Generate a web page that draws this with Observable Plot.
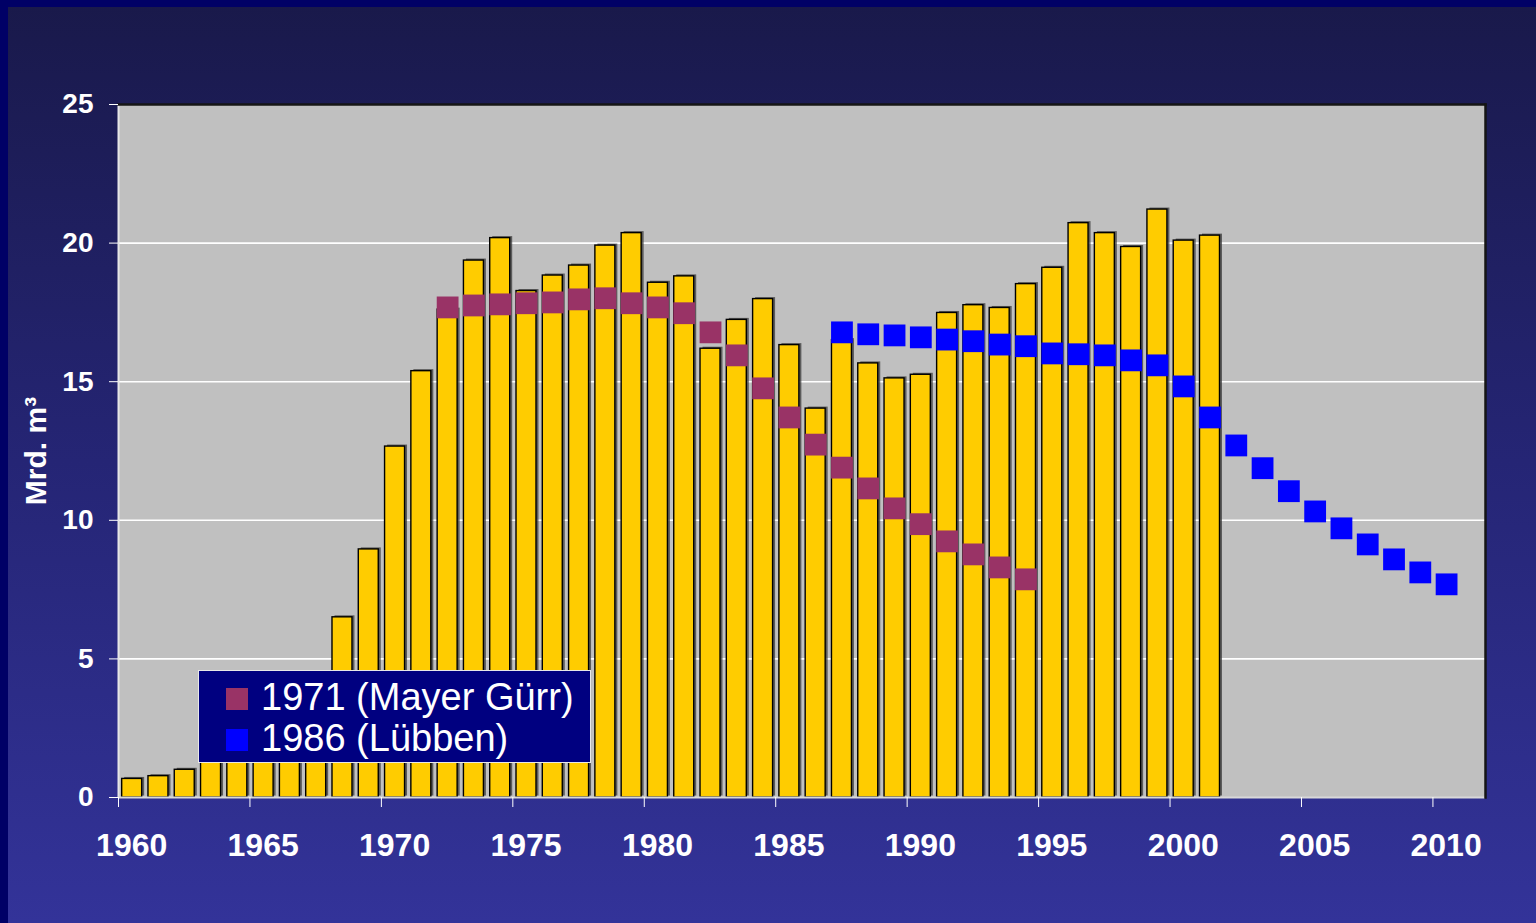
<!DOCTYPE html>
<html>
<head>
<meta charset="utf-8">
<script src="https://cdn.jsdelivr.net/npm/d3@7"></script>
<script src="https://cdn.jsdelivr.net/npm/@observablehq/plot@0.6"></script>
<style>
  html, body { margin: 0; padding: 0; overflow: hidden; }
  #page {
    position: relative; width: 1536px; height: 923px;
    background: linear-gradient(to bottom, #19194a 0%, #252575 50%, #333399 100%);
    font-family: "Liberation Sans", Arial, sans-serif;
  }
  #stripL { position: absolute; left: 0; top: 0; width: 8px; height: 923px; background: #000066; }
  #stripT { position: absolute; left: 0; top: 0; width: 1536px; height: 7px; background: #000066; }
  #chart { position: absolute; left: 0; top: 0; }
  #legend {
    position: absolute; left: 198px; top: 670px; width: 393px; height: 93px;
    background: #000080; border: 1px solid #e8e8e8; color: white;
    font-size: 38px; line-height: 41px; padding-top: 6px; box-sizing: border-box;
  }
  .row { position: relative; height: 41px; white-space: nowrap; }
  .sw { position: absolute; left: 27px; top: 11px; width: 22px; height: 22px; }
  .lab { position: absolute; left: 62px; top: 0; }
</style>
</head>
<body>
<div id="page">
  <div id="stripL"></div>
  <div id="stripT"></div>
  <div id="chart"></div>
  <div id="legend"></div>
</div>
<script>
// ---- Data ----
const barYears = [1960,1961,1962,1963,1964,1965,1966,1967,1968,1969,
  1970,1971,1972,1973,1974,1975,1976,1977,1978,1979,
  1980,1981,1982,1983,1984,1985,1986,1987,1988,1989,
  1990,1991,1992,1993,1994,1995,1996,1997,1998,1999,
  2000,2001];
const barValues = [0.67,0.77,1.0,1.5,2.1,2.8,3.4,4.1,6.5,8.95,
  12.66,15.38,17.6,19.37,20.18,18.27,18.83,19.19,19.91,20.36,
  18.57,18.80,16.19,17.23,17.98,16.32,14.03,16.5,15.66,15.12,
  15.25,17.48,17.76,17.66,18.52,19.11,20.72,20.36,19.86,21.21,
  20.09,20.27];

const mayerYears = [1972,1973,1974,1975,1976,1977,1978,1979,1980,1981,
  1982,1983,1984,1985,1986,1987,1988,1989,1990,1991,1992,1993,1994];
const mayerValues = [17.68,17.75,17.79,17.83,17.86,17.97,18.01,17.83,17.68,17.47,
  16.78,15.95,14.76,13.71,12.73,11.90,11.15,10.43,9.86,9.24,8.77,8.30,7.87];

const luebbenYears = [1987,1988,1989,1990,1991,1992,1993,1994,1995,1996,
  1997,1998,1999,2000,2001,2002,2003,2004,2005,2006,2007,2008,2009,2010];
const luebbenValues = [16.78,16.71,16.67,16.60,16.52,16.46,16.34,16.28,16.02,15.99,
  15.95,15.77,15.59,14.83,13.71,12.70,11.88,11.05,10.32,9.71,9.13,8.59,8.12,7.69];

const seriesNames = ["1971 (Mayer Gürr)", "1986 (Lübben)"];
const seriesColors = ["#993366", "#0000ff"];

const xTicks = [1960,1965,1970,1975,1980,1985,1990,1995,2000,2005,2010];
const yTicks = [0,5,10,15,20,25];
const gridTicks = [5,10,15,20];
const yTitle = "Mrd. m³";

// ---- Tables ----
const bars = barYears.map((y, i) => ({year: y, value: barValues[i]}));
const mayer = mayerYears.map((y, i) => ({year: y, value: mayerValues[i]}));
const luebben = luebbenYears.map((y, i) => ({year: y, value: luebbenValues[i]}));

const font = "'Liberation Sans', Arial, sans-serif";

const chart = Plot.plot({
  width: 1536,
  height: 923,
  marginLeft: 118,
  marginRight: 51,
  marginTop: 104,
  marginBottom: 126,
  style: {background: "transparent", fontFamily: font, overflow: "visible"},
  x: {type: "linear", domain: [1960, 2012], axis: null},
  y: {domain: [0, 25], axis: null},
  marks: [
    Plot.frame({fill: "#c0c0c0", stroke: null}),
    Plot.gridY(gridTicks, {stroke: "white", strokeOpacity: 1, strokeWidth: 1.6}),
    // bar shadow
    Plot.rectY(bars, {x1: d => d.year + 0.14, x2: d => d.year + 0.90, y: "value",
      fill: "#3a3a3a", fillOpacity: 0.75, dx: 2.5, dy: -1.5}),
    Plot.rectY(bars, {x1: d => d.year + 0.14, x2: d => d.year + 0.90, y: "value",
      fill: "#ffcc00", stroke: "black", strokeWidth: 1.4}),
    Plot.dot(mayer, {x: d => d.year + 0.52, y: "value", symbol: "square", r: 12.3,
      fill: seriesColors[0], stroke: null}),
    Plot.dot(luebben, {x: d => d.year + 0.52, y: "value", symbol: "square", r: 12.3,
      fill: seriesColors[1], stroke: null}),
    Plot.ruleX([1960], {stroke: "#e6e6e6", strokeWidth: 2}),
    Plot.ruleY([0], {stroke: "#d8d8d8", strokeWidth: 2}),
    Plot.frame({anchor: "top", stroke: "#151515", strokeWidth: 2.5}),
    Plot.frame({anchor: "right", stroke: "#151515", strokeWidth: 2.5}),
    Plot.axisY(yTicks, {tickSize: 9, tickPadding: 16, fontSize: 28, fontWeight: "bold",
      color: "white", label: null}),
    Plot.axisX(xTicks, {tickSize: 10, tickFormat: () => "", color: "white", label: null}),
    Plot.axisX(xTicks, {tickSize: 0, tickPadding: 36, dx: 13.2, fontSize: 32, fontWeight: "bold",
      color: "white", tickFormat: d => String(d), label: null}),
    Plot.text([yTitle], {frameAnchor: "left", text: d => d, rotate: -90, dx: -82,
      textAnchor: "middle", lineAnchor: "middle",
      fontSize: 30, fontWeight: "bold", fill: "white"})
  ]
});
document.getElementById("chart").appendChild(chart);

// ---- Legend ----
const legend = document.getElementById("legend");
seriesNames.forEach((name, i) => {
  const row = document.createElement("div");
  row.className = "row";
  const sw = document.createElement("div");
  sw.className = "sw";
  sw.style.background = seriesColors[i];
  const lab = document.createElement("div");
  lab.className = "lab";
  lab.textContent = name;
  row.appendChild(sw);
  row.appendChild(lab);
  legend.appendChild(row);
});
</script>
</body>
</html>
